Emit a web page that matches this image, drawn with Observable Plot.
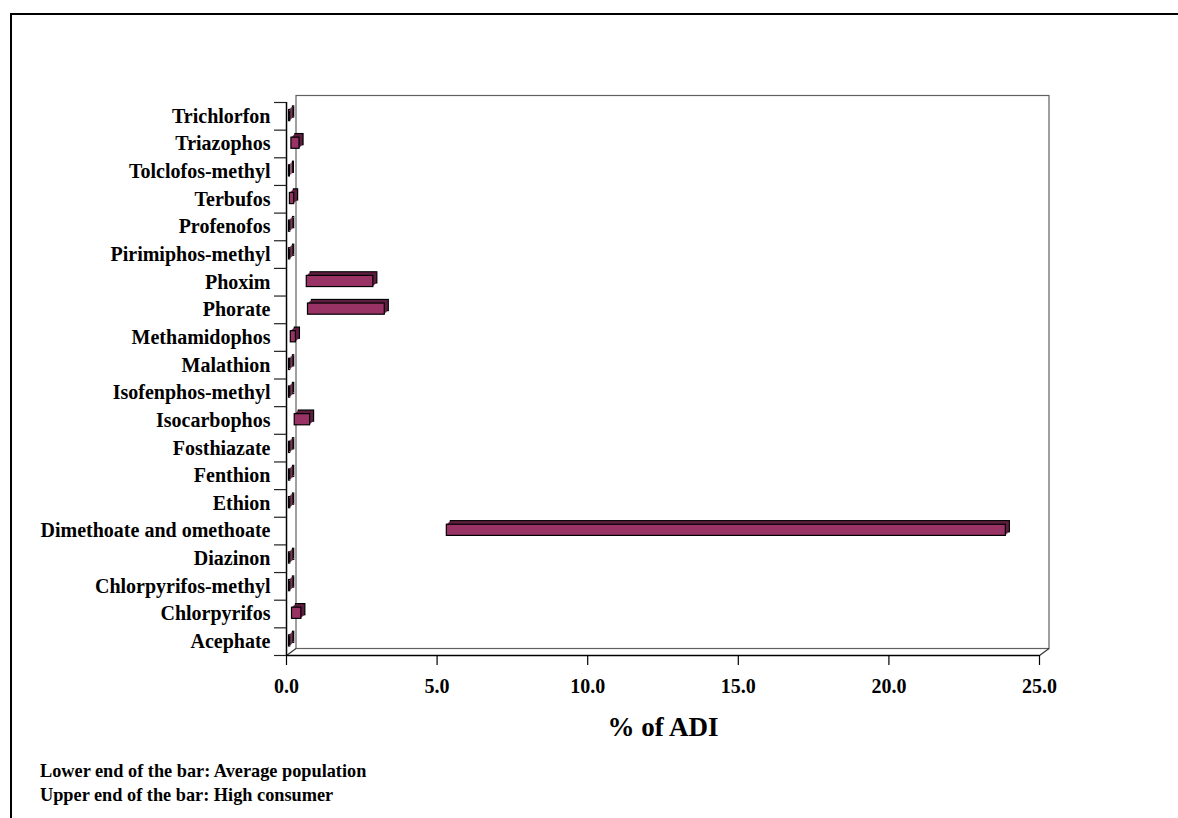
<!DOCTYPE html>
<html>
<head>
<meta charset="utf-8">
<script src="https://cdn.jsdelivr.net/npm/d3@7"></script>
<script src="https://cdn.jsdelivr.net/npm/@observablehq/plot@0.6"></script>
<style>
html, body { margin: 0; padding: 0; background: #fff; }
#wrap { position: relative; width: 1178px; height: 818px; overflow: hidden; font-family: "Liberation Serif", "Times New Roman", serif; }
#chart { position: absolute; left: 0; top: 0; }
#border { position: absolute; left: 9.5px; top: 12.5px; width: 1200px; height: 900px; border-top: 2px solid #000; border-left: 2px solid #000; pointer-events: none; }
#caption { position: absolute; left: 40px; top: 759px; font-weight: bold; font-size: 18.3px; line-height: 24.4px; color: #000; }
</style>
</head>
<body>
<div id="wrap">
  <div id="chart"></div>
  <div id="border"></div>
  <div id="caption"></div>
</div>
<script>
// ---- data (bottom row first) ----
const names = [
  "Acephate", "Chlorpyrifos", "Chlorpyrifos-methyl", "Diazinon",
  "Dimethoate and omethoate", "Ethion", "Fenthion", "Fosthiazate",
  "Isocarbophos", "Isofenphos-methyl", "Malathion", "Methamidophos",
  "Phorate", "Phoxim", "Pirimiphos-methyl", "Profenofos",
  "Terbufos", "Tolclofos-methyl", "Triazophos", "Trichlorfon"
];
// lower end of the bar: average population (% of ADI)
const averagePopulation = [
  0.00, 0.10, 0.00, 0.00,
  5.24, 0.00, 0.00, 0.00,
  0.19, 0.00, 0.00, 0.06,
  0.63, 0.59, 0.00, 0.00,
  0.03, 0.00, 0.08, 0.00
];
// upper end of the bar: high consumer (% of ADI)
const highConsumer = [
  0.04, 0.41, 0.04, 0.04,
  23.80, 0.04, 0.04, 0.04,
  0.70, 0.04, 0.04, 0.23,
  3.18, 2.80, 0.04, 0.04,
  0.17, 0.03, 0.35, 0.04
];
const xTicks = [0, 5, 10, 15, 20, 25];
const xLabel = "% of ADI";
const captionLines = [
  "Lower end of the bar: Average population",
  "Upper end of the bar: High consumer"
];

// ---- layout ----
const W = 1178, H = 755, ML = 286, MR = 139, MT = 102, MB = 100;
const xMax = 25, nRows = names.length;
const pxPerX = (W - ML - MR) / xMax;
const pxPerY = (H - MT - MB) / nRows;
const wallDepth = {x: 9.5, y: 7};
const font = "'Liberation Serif', 'Times New Roman', Times, serif";

const rows = names.map((name, i) => ({name, i, lo: averagePopulation[i], hi: highConsumer[i]}));
const barGeom = {x1: "lo", x2: "hi", y1: d => d.i, y2: d => d.i + 1, insetTop: 7.5, insetBottom: 9};
const barShift = 2.5;

const depthLayers = [4, 3, 2, 1].map(k => Plot.rect(rows, {
  ...barGeom,
  dx: barShift + k, dy: -k * 0.9,
  fill: "#5e1f40",
  stroke: k === 4 ? "#000" : "none",
  strokeWidth: 1.2
}));

const chart = Plot.plot({
  width: W, height: H,
  marginLeft: ML, marginRight: MR, marginTop: MT, marginBottom: MB,
  style: {fontFamily: font, fontSize: "20px", fontWeight: "bold", background: "transparent", color: "#000"},
  x: {domain: [0, xMax], label: null},
  y: {domain: [0, nRows], label: null},
  marks: [
    // back wall of the 3D box
    Plot.frame({stroke: "#606060", strokeWidth: 1.2, dx: wallDepth.x, dy: -wallDepth.y}),
    // floor diagonals
    Plot.link([0, xMax], {
      x1: d => d, y1: 0,
      x2: d => d + wallDepth.x / pxPerX, y2: wallDepth.y / pxPerY,
      stroke: "#333", strokeWidth: 1.2
    }),
    // front axis lines
    Plot.ruleX([0], {stroke: "#000", strokeWidth: 1.5}),
    Plot.ruleY([0], {stroke: "#000", strokeWidth: 1.5}),
    // category boundary ticks
    Plot.axisY({ticks: d3.range(0, nRows + 1), tickSize: 12, tickFormat: () => "", label: null, stroke: "#222", strokeWidth: 1.2}),
    // category labels
    Plot.axisY({
      ticks: d3.range(0, nRows).map(i => i + 0.5),
      tickFormat: v => names[Math.floor(v)],
      tickSize: 0, tickPadding: 16, label: null,
      fontSize: 20, fontWeight: "bold", fontFamily: font
    }),
    // x axis
    Plot.axisX({
      ticks: xTicks, tickFormat: d3.format(".1f"),
      tickSize: 10, tickPadding: 13, label: null,
      fontSize: 20, fontWeight: "bold", fontFamily: font,
      stroke: "#000", strokeWidth: 1.2
    }),
    Plot.text([xLabel], {frameAnchor: "bottom", dy: 80, text: d => d, fontSize: 27, fontWeight: "bold", fontFamily: font}),
    // 3D range bars
    ...depthLayers,
    Plot.rect(rows, {...barGeom, dx: barShift, fill: "#993366", stroke: "#000", strokeWidth: 1.2})
  ]
});
document.getElementById("chart").appendChild(chart);
document.getElementById("caption").innerHTML = captionLines.map(t => `<div>${t}</div>`).join("");
</script>
</body>
</html>
